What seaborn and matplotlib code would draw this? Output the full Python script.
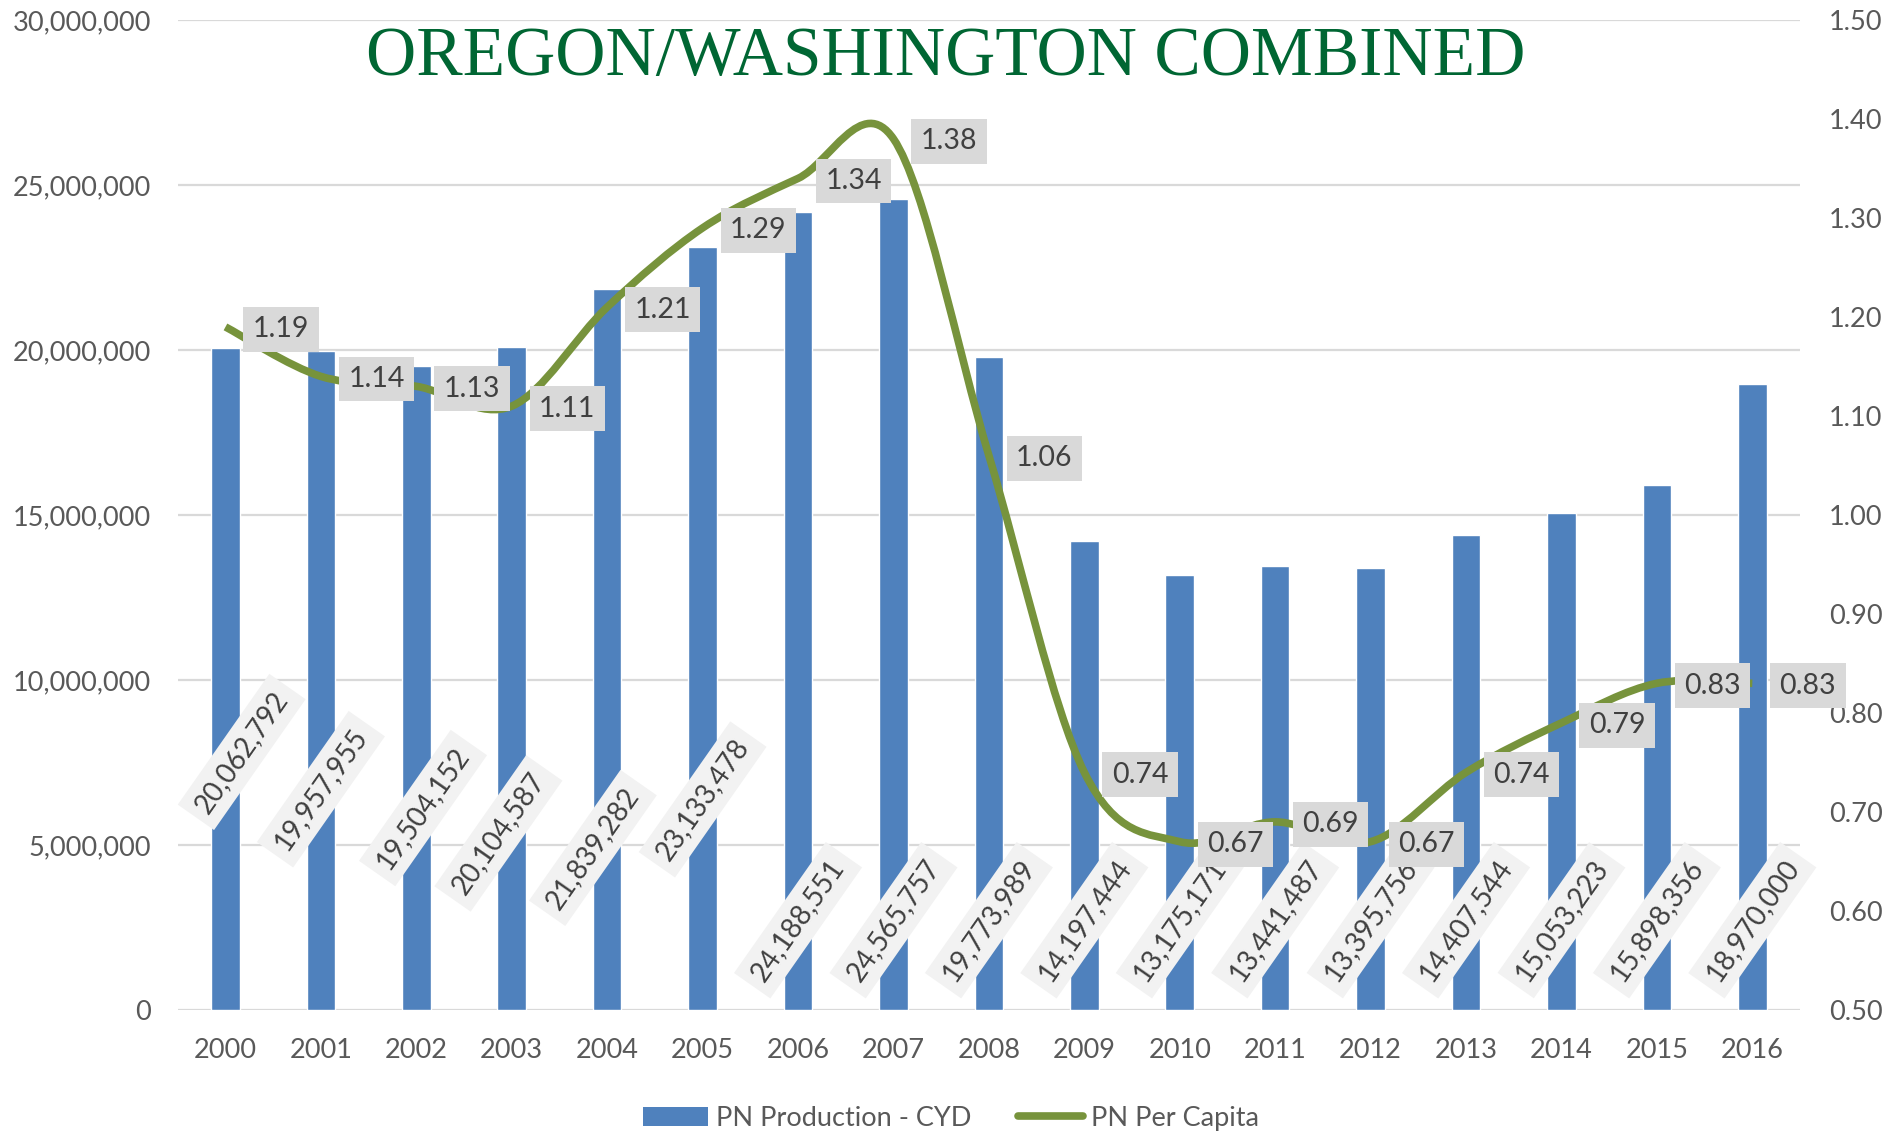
import numpy as np
import seaborn as sns
import matplotlib.pyplot as plt
from matplotlib.path import Path
from matplotlib.patches import PathPatch, Patch
from matplotlib.lines import Line2D
from matplotlib.ticker import FuncFormatter, MultipleLocator

# data
years = ['2000', '2001', '2002', '2003', '2004', '2005', '2006', '2007', '2008',
         '2009', '2010', '2011', '2012', '2013', '2014', '2015', '2016']
production = [20062792, 19957955, 19504152, 20104587, 21839282, 23133478, 24188551,
              24565757, 19773989, 14197444, 13175171, 13441487, 13395756, 14407544,
              15053223, 15898356, 18970000]
per_capita = [1.19, 1.14, 1.13, 1.11, 1.21, 1.29, 1.34, 1.38, 1.06,
              0.74, 0.67, 0.69, 0.67, 0.74, 0.79, 0.83, 0.83]

# where the rotated bar labels sit (millions) and their small sideways nudges
bar_label_y = [7.82, 6.69, 6.12, 5.35, 4.91, 6.38] + [2.72] * 11
bar_label_dx = [0.17, 0.0, 0.07, -0.14, -0.15, 0.0] + [0.0] * 11

BLUE = '#4F81BD'
GREEN = '#77933C'
TITLE_GREEN = '#006633'
TICK_GREY = '#595959'
TEXT_DARK = '#404040'

sns.set_style('white')
plt.rcParams['font.family'] = ['Lato', 'DejaVu Sans']

fig, ax = plt.subplots(figsize=(18.91, 11.32), dpi=100)
fig.subplots_adjust(left=0.094, right=0.9519, bottom=0.1078, top=0.9823)

sns.barplot(x=years, y=production, ax=ax, color=BLUE, saturation=1, width=0.3, zorder=2)
ax.set_xlabel('')
ax.set_ylabel('')
ax.set_ylim(0, 30_000_000)
ax.yaxis.set_major_locator(MultipleLocator(5_000_000))
ax.yaxis.set_major_formatter(FuncFormatter(lambda v, p: f'{v:,.0f}'))
ax.grid(axis='y', color='#D9D9D9', lw=1.6, zorder=0)
ax.set_axisbelow(True)
ax.tick_params(axis='both', length=0, labelsize=19.5, labelcolor=TICK_GREY)
ax.tick_params(axis='y', pad=19)
ax.tick_params(axis='x', pad=20)
sns.despine(ax=ax, left=True, bottom=True)

for i, v in enumerate(production):
    ax.text(i + bar_label_dx[i], bar_label_y[i] * 1e6, f'{v:,}', rotation=55,
            rotation_mode='anchor', ha='center', va='center', fontsize=20,
            color=TEXT_DARK, zorder=3,
            bbox=dict(boxstyle='square,pad=0.33', fc='#F2F2F2', ec='none'))

# per capita on the right axis, smoothed like Excel (Catmull-Rom as bezier)
ax2 = ax.twinx()
ax2.set_ylim(0.5, 1.5)
ax2.yaxis.set_major_locator(MultipleLocator(0.1))
ax2.yaxis.set_major_formatter(FuncFormatter(lambda v, p: f'{v:.2f}'))
ax2.tick_params(axis='y', length=0, labelsize=19.5, labelcolor=TICK_GREY, pad=21)
for s in ax2.spines.values():
    s.set_visible(False)
ax2.grid(False)

pts = np.column_stack([np.arange(len(per_capita)), per_capita]).astype(float)
n = len(pts)
tang = np.zeros_like(pts)
tang[1:-1] = (pts[2:] - pts[:-2]) / 2
tang[0] = (pts[1] - pts[0]) / 2
tang[-1] = (pts[-1] - pts[-2]) / 2
verts = [pts[0]]
codes = [Path.MOVETO]
for k in range(n - 1):
    verts += [pts[k] + tang[k] / 3, pts[k + 1] - tang[k + 1] / 3, pts[k + 1]]
    codes += [Path.CURVE4] * 3
ax2.add_patch(PathPatch(Path(verts, codes), fill=False, edgecolor=GREEN, lw=5.5, zorder=2))

for i, v in enumerate(per_capita):
    ax2.annotate(f'{v:.2f}', (i, v), xytext=(40, 0), textcoords='offset points',
                 ha='center', va='center_baseline', fontsize=20.5, color=TEXT_DARK, zorder=4,
                 bbox=dict(boxstyle='square,pad=0.33', fc='#D9D9D9', ec='none'))

fig.text(0.5, 0.934, 'OREGON/WASHINGTON COMBINED', ha='center', va='baseline',
         fontsize=50, family='Liberation Serif', color=TITLE_GREEN)

handles = [Patch(facecolor=BLUE, edgecolor='none'),
           Line2D([], [], color=GREEN, lw=5.5, solid_capstyle='round')]
leg = fig.legend(handles, ['PN Production - CYD', 'PN Per Capita'], loc='center',
                 bbox_to_anchor=(0.503, 0.012), ncol=2, frameon=False,
                 handlelength=2.4, handletextpad=0.3, columnspacing=1.7, fontsize=19.5)
for t in leg.get_texts():
    t.set_color(TICK_GREY)

fig.savefig('out.png', dpi=100)
